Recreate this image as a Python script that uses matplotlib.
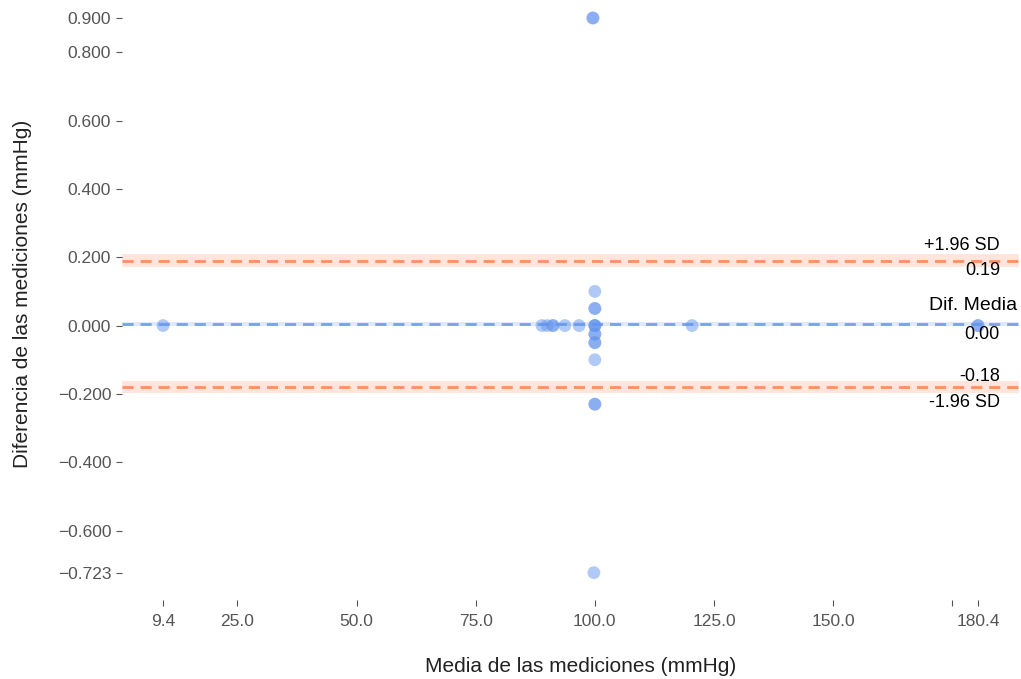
import matplotlib
matplotlib.use("Agg")
import matplotlib.pyplot as plt
import matplotlib.transforms as mtransforms

plt.rcParams['font.family'] = ['Liberation Sans', 'DejaVu Sans']

# Bland-Altman data: mean of the two measurements and their difference
means = [9.4, 88.9, 90.0, 91.2, 91.2, 93.7, 96.7, 99.6, 99.6, 99.8,
         100.0, 100.0, 100.0, 100.0, 100.0, 100.0, 100.0, 100.0, 100.0,
         100.0, 100.0, 100.0, 100.0, 120.4, 180.4, 180.4]
diffs = [0.0, 0.0, 0.0, 0.0, 0.0, 0.0, 0.0, 0.9, 0.9, -0.723,
         0.1, 0.05, 0.05, 0.0, 0.0, 0.0, -0.025, -0.025, -0.05, -0.05,
         -0.1, -0.23, -0.23, 0.0, 0.0, 0.0]

# Summary statistics
mean_diff = 0.004
upper_loa = 0.19
lower_loa = -0.18
mean_ci = 0.006
loa_ci = 0.018

x_ticks = [9.4, 25.0, 50.0, 75.0, 100.0, 125.0, 150.0, 175.0, 180.4]
x_tick_labels = ['9.4', '25.0', '50.0', '75.0', '100.0', '125.0', '150.0', '', '180.4']
y_ticks = [0.9, 0.8, 0.6, 0.4, 0.2, 0.0, -0.2, -0.4, -0.6, -0.723]
y_tick_labels = ['0.900', '0.800', '0.600', '0.400', '0.200', '0.000',
                 '\u22120.200', '\u22120.400', '\u22120.600', '\u22120.723']

point_color = '#6495ED'
mean_color = '#6495ED'
loa_color = '#FF7F50'

W, H = 1021, 679
fig = plt.figure(figsize=(W / 100, H / 100), dpi=100)
ax = fig.add_axes([122.3 / W, (H - 600) / H, 896.5 / W, 600 / H])

ax.set_xlim(0.85, 188.95)
ax.set_ylim(-0.803, 0.9526)

# Confidence bands
ax.axhspan(mean_diff - mean_ci, mean_diff + mean_ci, color=mean_color, alpha=0.2, lw=0)
ax.axhspan(upper_loa - loa_ci, upper_loa + loa_ci, color=loa_color, alpha=0.2, lw=0)
ax.axhspan(lower_loa - loa_ci, lower_loa + loa_ci, color=loa_color, alpha=0.2, lw=0)

# Mean and limits of agreement
ax.axhline(mean_diff, color=mean_color, ls='--', lw=2, dashes=(4, 2.5), alpha=0.85)
ax.axhline(upper_loa, color=loa_color, ls='--', lw=2, dashes=(4, 2.5), alpha=0.85)
ax.axhline(lower_loa, color=loa_color, ls='--', lw=2, dashes=(4, 2.5), alpha=0.85)

ax.scatter(means, diffs, s=85, color=point_color, alpha=0.5, edgecolors='none', zorder=3)

trans = mtransforms.blended_transform_factory(ax.transAxes, ax.transData)
ax.text(0.979, upper_loa + 0.02, '+1.96 SD', ha='right', va='bottom', fontsize=13, transform=trans)
ax.text(0.979, upper_loa - 0.005, f'{upper_loa:.2f}', ha='right', va='top', fontsize=13, transform=trans)
ax.text(0.998, mean_diff + 0.03, 'Dif. Media', ha='right', va='bottom', fontsize=14, transform=trans)
ax.text(0.979, mean_diff - 0.005, f'{mean_diff:.2f}', ha='right', va='top', fontsize=13, transform=trans)
ax.text(0.979, lower_loa + 0.005, f'{lower_loa:.2f}', ha='right', va='bottom', fontsize=13, transform=trans)
ax.text(0.979, lower_loa - 0.02, '-1.96 SD', ha='right', va='top', fontsize=13, transform=trans)

ax.set_xticks(x_ticks)
ax.set_xticklabels(x_tick_labels)
ax.set_yticks(y_ticks)
ax.set_yticklabels(y_tick_labels)
ax.tick_params(axis='both', colors='#555555', labelsize=12.5, length=4, width=0.8, direction='out')
ax.tick_params(axis='x', pad=6)
ax.tick_params(axis='y', pad=4)

for s in ax.spines.values():
    s.set_visible(False)

ax.set_xlabel('Media de las mediciones (mmHg)', fontsize=15, color='#222222', labelpad=20, x=0.5117)
ax.set_ylabel('Diferencia de las mediciones (mmHg)', fontsize=15, color='#222222', labelpad=18.5, y=0.511)

fig.savefig('out.png', dpi=100)
